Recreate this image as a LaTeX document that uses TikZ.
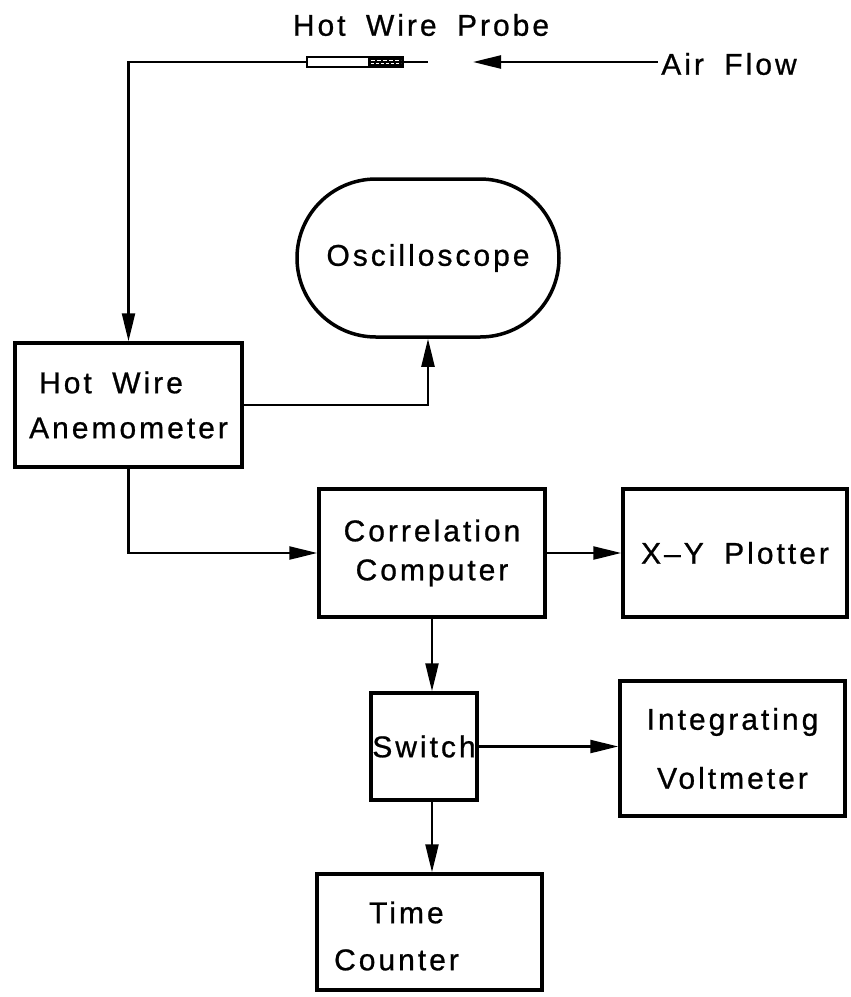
\documentclass[tikz,border=0pt]{standalone}
\usepackage{fontspec}
\setmainfont{Liberation Sans}[LetterSpace=10,WordSpace=1.8,FakeBold=0.8]
\usetikzlibrary{arrows.meta,shapes.misc}
\newcommand\lettering{\fontsize{30}{36}\selectfont}
\begin{document}
\begin{tikzpicture}[x=1pt,y=-1pt,
  every node/.style={font=\lettering},
  box/.style={draw, line width=3.5pt, rectangle, inner sep=0pt},
  conn/.style={line width=2.4pt},
  arr/.style={conn, -{Triangle[length=28pt,width=13pt]}}]
\useasboundingbox (0,0) rectangle (851,997);

% probe and air flow
\node (title) at (421,25) {Hot Wire Probe};
\node[draw, fill=white, line width=1.8pt, minimum width=96pt, minimum height=10pt, inner sep=0pt] (probe) at (355,62) {};
\fill ([xshift=-36pt]probe.north east) rectangle (probe.south east);
\draw[white, line width=0.6pt, dash pattern=on 4pt off 2pt] ([xshift=-33pt,yshift=1.5pt]probe.east) -- ([xshift=-3pt,yshift=1.5pt]probe.east);
\draw[white, line width=0.6pt, dash pattern=on 3pt off 2pt] ([xshift=-33pt,yshift=-1.5pt]probe.east) -- ([xshift=-3pt,yshift=-1.5pt]probe.east);
\coordinate (wire) at (428,62);
\draw[conn] (probe.east) -- (wire);
\coordinate (tip) at (473,62);
\node (air) at (729,64) {Air Flow};
\draw[arr] (air.west |- tip) -- (tip);

% blocks
\node[box, minimum width=227pt, minimum height=124pt, align=left] (hwa) at (128.5,405) {\hspace*{10pt}Hot Wire\\[9pt]Anemometer};
\node[draw, line width=3.5pt, rounded rectangle, minimum width=262pt, minimum height=158pt, inner sep=0pt] (osc) at (428,258) {Oscilloscope};
\node[box, minimum width=226pt, minimum height=128pt, align=center] (cc) at (432,553) {Correlation\\[3pt]Computer};
\node[box, minimum width=224pt, minimum height=128pt] (xy) at (735,553) {X–Y Plotter};
\node[box, minimum width=106pt, minimum height=107pt] (sw) at (424,746.5) {Switch};
\node[box, minimum width=225pt, minimum height=135pt, align=center] (iv) at (732.5,748.5) {Integrating\\[23pt]Voltmeter};
\node[box, minimum width=225pt, minimum height=116pt] (tc) at (429.5,932) {};
\node[align=left, xshift=-33pt, yshift=-4pt] (tct) at (tc.center) {\hspace*{35pt}Time\\[11pt]Counter};

% connectors
\draw[arr] (probe.west) -| (hwa.north);
\draw[arr] (hwa.east) -| (osc.south);
\draw[arr] (hwa.south) |- (cc.west);
\draw[arr] (cc.east) -- (xy.west);
\draw[arr] (cc.south) -- (cc.south |- sw.north);
\draw[arr] (sw.east) -- (sw.east -| iv.west);
\draw[arr] (sw.south -| cc.south) -- (cc.south |- tc.north);
\end{tikzpicture}
\end{document}
